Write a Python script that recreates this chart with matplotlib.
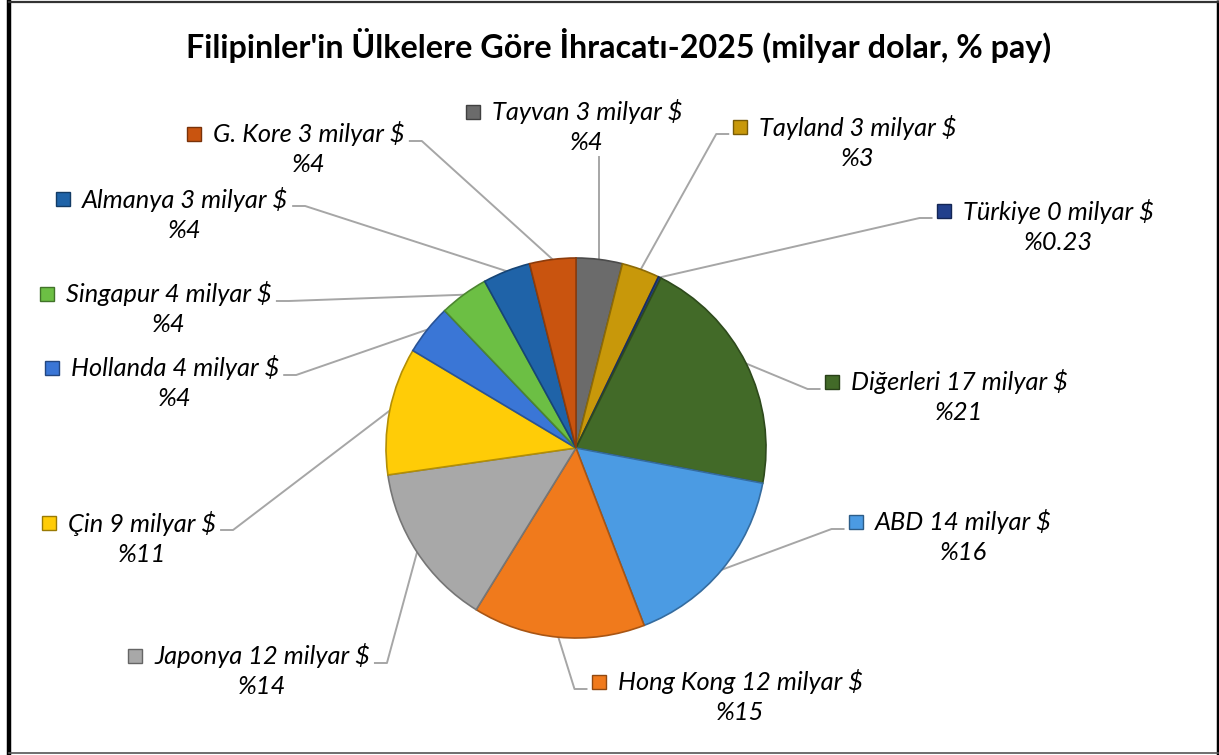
import matplotlib
matplotlib.use('Agg')
import matplotlib.pyplot as plt
import matplotlib.colors as mcolors
import numpy as np

W, H = 1219, 755
plt.rcParams['font.family'] = ['Lato', 'DejaVu Sans']

title = "Filipinler'in Ülkelere Göre İhracatı-2025 (milyar dolar, % pay)"

# exports, billion USD (clockwise from 12 o'clock)
countries = ['Tayvan', 'Tayland', 'Türkiye', 'Diğerleri', 'ABD', 'Hong Kong',
             'Japonya', 'Çin', 'Hollanda', 'Singapur', 'Almanya', 'G. Kore']
values = [3.3, 2.7, 0.19, 17.3, 13.6, 12.3, 11.7, 9.1, 3.6, 3.5, 3.4, 3.3]

colors = ['#6b6b6b', '#c8980a', '#22408c', '#426a28', '#4b9be3', '#f07a1c',
          '#a8a8a8', '#ffcc07', '#3a76d6', '#6cbf44', '#1f63a8', '#c9540f']

# label layout: center of first text line (pixels from top-left), leader side
label_xy = [(587, 112), (858, 127), (1058, 211), (959, 382), (963, 522),
            (740, 682), (262, 656), (142, 523), (175, 368), (169, 294),
            (185, 199), (309, 134)]
attach = ['bottom', 'left', 'left', 'left', 'left', 'left',
          'right', 'right', 'right', 'right', 'right', 'right']

fig = plt.figure(figsize=(W / 100, H / 100), dpi=100)
ax = fig.add_axes([0, 0, 1, 1])

cx, cy, r = 576, H - 448, 190
wedges, _ = ax.pie(values, colors=colors, startangle=90, counterclock=False,
                   center=(cx, cy), radius=r,
                   wedgeprops=dict(linewidth=1.2))
for w, c in zip(wedges, colors):
    dark = np.array(mcolors.to_rgb(c)) * 0.7
    w.set_edgecolor(dark)
    w.set_zorder(2)

ax.set_xlim(0, W)
ax.set_ylim(0, H)
ax.set_aspect('equal')
ax.axis('off')

# frame
ax.plot([9, 9], [0, H], color='black', lw=3.2, solid_capstyle='butt')
ax.plot([1218, 1218], [0, H], color='black', lw=2.5, solid_capstyle='butt')
ax.plot([9, 1218], [H - 1.5, H - 1.5], color='#333333', lw=1.6)
ax.plot([9, 1218], [H - 753, H - 753], color='#555555', lw=1.2)

# title, fitted to the reference width
t = ax.text(619, H - 45, title, ha='center', va='center', fontsize=20,
            fontweight='bold', color='black')
fig.canvas.draw()
rend = fig.canvas.get_renderer()
tw = t.get_window_extent(rend).width
t.set_fontsize(20 * 866 / tw)

total = sum(values)
fs = 15
line1s, line2s = [], []
for name, v, (lx, ly) in zip(countries, values, label_xy):
    pct = v / total * 100
    ptxt = f'%{pct:.2f}' if pct < 1 else f'%{pct:.0f}'
    a = ax.text(lx, H - ly, f'{name} {v:.0f} milyar $', ha='center',
                va='center', fontsize=fs, style='italic', color='black')
    b = ax.text(lx, H - ly - 31, ptxt, ha='center', va='center',
                fontsize=fs, style='italic', color='black')
    line1s.append(a)
    line2s.append(b)

fig.canvas.draw()
# fit label size to reference ("Tayvan 3 milyar $" is ~190 px wide)
w0 = line1s[0].get_window_extent(rend).width
k = 190 / w0
for a, b in zip(line1s, line2s):
    a.set_fontsize(fs * k)
    b.set_fontsize(fs * k)
fig.canvas.draw()

inv = ax.transData.inverted()
for i, (w, c) in enumerate(zip(wedges, colors)):
    a, b = line1s[i], line2s[i]
    bb = inv.transform(a.get_window_extent(rend))
    x0, x1 = bb[0][0], bb[1][0]
    ly = H - label_xy[i][1]
    mx = x0 - 19
    dark = np.array(mcolors.to_rgb(c)) * 0.6
    ax.plot(mx, ly, marker='s', ms=9.5, color=c, mec=dark, mew=1.0,
            zorder=4)
    ang = np.deg2rad((w.theta1 + w.theta2) / 2)
    px, py = cx + r * np.cos(ang), cy + r * np.sin(ang)
    if attach[i] == 'bottom':
        bb2 = inv.transform(b.get_window_extent(rend))
        xs, ys = [px, px], [bb2[0][1] - 2, py]
    elif attach[i] == 'left':
        sx = mx - 12
        xs, ys = [sx, sx - 12, px], [ly - 7, ly - 7, py]
    else:
        sx = x1 + 5
        xs, ys = [sx, sx + 12, px], [ly - 7, ly - 7, py]
    ax.plot(xs, ys, color='#a6a6a6', lw=1.4, zorder=1)

fig.savefig('out.png', dpi=100)
